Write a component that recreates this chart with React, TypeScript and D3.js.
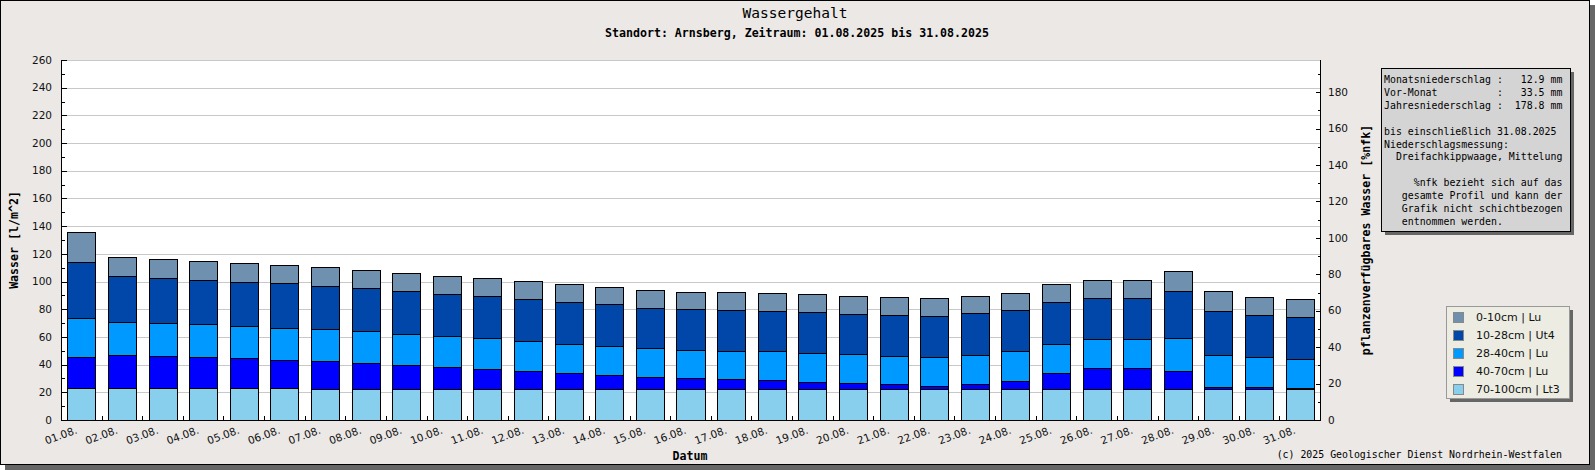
import React from "react";
import * as d3 from "d3";

// Tageswerte August 2025, Schichten von unten nach oben (l/m²)
const days = [
  "01.08.", "02.08.", "03.08.", "04.08.", "05.08.", "06.08.", "07.08.", "08.08.",
  "09.08.", "10.08.", "11.08.", "12.08.", "13.08.", "14.08.", "15.08.", "16.08.",
  "17.08.", "18.08.", "19.08.", "20.08.", "21.08.", "22.08.", "23.08.", "24.08.",
  "25.08.", "26.08.", "27.08.", "28.08.", "29.08.", "30.08.", "31.08.",
];

const s70_100 = [
  22.9, 22.9, 22.9, 22.9, 22.9, 22.9, 22.1, 22.1, 22.1, 22.1, 22.1, 22.1, 22.1, 22.1, 22.1, 22.1,
  22.1, 22.1, 22.1, 22.1, 22.1, 22.1, 22.1, 22.1, 22.1, 22.1, 22.1, 22.1, 22.1, 22.1, 22.1,
];
const s40_70 = [
  22.6, 24.0, 23.3, 22.6, 21.9, 20.4, 20.5, 19.1, 17.6, 16.2, 14.7, 13.3, 11.6, 10.2, 8.7, 8.0,
  7.3, 6.6, 5.1, 4.4, 3.7, 2.5, 3.7, 5.8, 11.6, 15.2, 15.2, 13.1, 1.7, 1.7, 0.7,
];
const s28_40 = [
  27.9, 23.7, 23.6, 23.6, 22.8, 22.9, 22.9, 22.8, 22.2, 22.1, 22.2, 21.4, 21.4, 21.4, 21.4, 20.7,
  20.7, 21.4, 21.4, 21.4, 20.6, 21.1, 21.4, 21.7, 21.4, 21.4, 21.4, 24.2, 23.4, 21.9, 21.5,
];
const s10_28 = [
  40.9, 33.2, 32.5, 31.8, 31.8, 32.5, 31.1, 31.1, 31.0, 30.4, 30.3, 30.4, 30.4, 29.8, 28.9, 29.6,
  29.6, 28.8, 29.6, 28.9, 29.7, 29.6, 29.8, 29.6, 30.4, 29.7, 29.7, 33.5, 31.7, 30.4, 30.3,
];
const s0_10 = [
  21.2, 13.7, 13.7, 13.7, 13.8, 13.0, 13.7, 13.0, 13.0, 13.0, 13.0, 13.0, 12.5, 12.3, 12.6, 11.8,
  12.5, 12.6, 12.6, 12.5, 12.5, 12.6, 12.3, 12.3, 12.5, 12.5, 12.5, 14.5, 14.0, 12.5, 12.6,
];

// legend order (top to bottom)
const layerKeys = ["l0_10", "l10_28", "l28_40", "l40_70", "l70_100"];
const layerLabels = ["0-10cm | Lu", "10-28cm | Ut4", "28-40cm | Lu", "40-70cm | Lu", "70-100cm | Lt3"];
const layerColors = ["#7090b0", "#0047a9", "#0099ff", "#0000ff", "#88cfee"];

const leftTicks = [0, 20, 40, 60, 80, 100, 120, 140, 160, 180, 200, 220, 240, 260];
const rightTicks = [0, 20, 40, 60, 80, 100, 120, 140, 160, 180];

const infoLines = [
  "Monatsniederschlag :   12.9 mm",
  "Vor-Monat          :   33.5 mm",
  "Jahresniederschlag :  178.8 mm",
  "",
  "bis einschließlich 31.08.2025",
  "Niederschlagsmessung:",
  "  Dreifachkippwaage, Mittelung",
  "",
  "     %nfk bezieht sich auf das",
  "   gesamte Profil und kann der",
  "   Grafik nicht schichtbezogen",
  "   entnommen werden.",
];

const W = 1595;
const H = 470;
const M = { left: 61, right: 1320, top: 60, bottom: 420 };
const MONO = "'DejaVu Sans Mono', monospace";
const SANS = "'DejaVu Sans', sans-serif";

export default function App() {
  const rows = days.map((d, i) => ({
    day: d,
    l70_100: s70_100[i],
    l40_70: s40_70[i],
    l28_40: s28_40[i],
    l10_28: s10_28[i],
    l0_10: s0_10[i],
  }));

  const stackKeys = [...layerKeys].reverse(); // bottom first
  const stacked = d3.stack<any>().keys(stackKeys)(rows);
  const colorOf = d3.scaleOrdinal<string, string>().domain(layerKeys).range(layerColors);

  const x = d3.scaleBand().domain(days).range([M.left, M.right]).paddingInner(0.31).paddingOuter(0.155);
  const band = d3.scaleBand().domain(days).range([M.left, M.right]);
  const y = d3.scaleLinear().domain([0, 260]).range([M.bottom, M.top]);
  const yR = d3.scaleLinear().domain([0, 197.7]).range([M.bottom, M.top]);

  const px = (v: number) => Math.round(v) + 0.5;

  const boxX = 1381, boxY = 68, boxW = 189, boxH = 163;
  const legX = 1446, legY = 306, legW = 123, legH = 92;

  return (
    <svg width={W} height={H} style={{ position: "absolute", left: 0, top: 0 }}>
      {/* frame */}
      <rect x={5} y={5} width={W - 5} height={H - 5} fill="#666" />
      <rect x={0.5} y={0.5} width={1589} height={464} fill="#ebe8e6" stroke="#000" />

      <text x={795} y={18} textAnchor="middle" fontFamily={MONO} fontSize={14.5} fill="#000">
        Wassergehalt
      </text>
      <text x={797} y={37} textAnchor="middle" fontFamily={MONO} fontSize={11.6} fontWeight="bold" fill="#000">
        Standort: Arnsberg, Zeitraum: 01.08.2025 bis 31.08.2025
      </text>

      {/* plot area */}
      <rect x={M.left} y={M.top} width={M.right - M.left} height={M.bottom - M.top} fill="#fff" />
      <g shapeRendering="crispEdges">
        {leftTicks.map((t) => (
          <line key={t} x1={M.left} x2={M.right} y1={px(y(t))} y2={px(y(t))} stroke="#c8c8c8" />
        ))}
      </g>

      {/* bars */}
      <g shapeRendering="crispEdges">
        {stacked.map((s) =>
          s.map((d, i) => {
            const x0 = px(x(days[i])!);
            const x1 = px(x(days[i])! + x.bandwidth());
            const y0 = px(y(d[0]));
            const y1 = px(y(d[1]));
            return (
              <rect
                key={s.key + i}
                x={x0}
                y={y1}
                width={x1 - x0}
                height={Math.max(0, y0 - y1)}
                fill={colorOf(s.key)}
                stroke="#000"
              />
            );
          })
        )}
      </g>

      {/* axes */}
      <g shapeRendering="crispEdges" stroke="#000">
        <line x1={px(M.left)} x2={px(M.left)} y1={M.top} y2={M.bottom + 1} />
        <line x1={px(M.right)} x2={px(M.right)} y1={M.top} y2={M.bottom + 1} />
        <line x1={M.left} x2={M.right + 1} y1={px(M.bottom)} y2={px(M.bottom)} />
        {d3.range(0, 261, 10).map((t) => (
          <line key={"l" + t} x1={px(M.left)} x2={px(M.left) + (t % 20 === 0 ? 5 : 3)} y1={px(y(t))} y2={px(y(t))} />
        ))}
        {d3.range(0, 191, 10).map((t) => (
          <line key={"r" + t} x1={px(M.right)} x2={px(M.right) - (t % 20 === 0 ? 5 : 3)} y1={px(yR(t))} y2={px(yR(t))} />
        ))}
        {days.slice(1).map((d) => (
          <line key={"b" + d} x1={px(band(d)!)} x2={px(band(d)!)} y1={px(M.bottom)} y2={px(M.bottom) - 5} />
        ))}
      </g>

      {leftTicks.map((t) => (
        <text key={t} x={52} y={y(t)} dy="0.35em" textAnchor="end" fontFamily={SANS} fontSize={10.5} fill="#111">
          {t}
        </text>
      ))}
      {rightTicks.map((t) => (
        <text key={t} x={1328} y={yR(t)} dy="0.35em" fontFamily={SANS} fontSize={10.5} fill="#111">
          {t}
        </text>
      ))}
      {days.map((d) => (
        <text
          key={d}
          transform={`translate(${band(d)! + band.bandwidth() / 2 - 3.5},433) rotate(-20)`}
          textAnchor="end"
          fontFamily={SANS}
          fontSize={10.5}
          fill="#111"
        >
          {d}
        </text>
      ))}

      {/* axis titles */}
      <text transform="translate(18,240) rotate(-90)" textAnchor="middle" fontFamily={MONO} fontSize={11.6} fontWeight="bold">
        Wasser [l/m^2]
      </text>
      <text transform="translate(1370,240) rotate(-90)" textAnchor="middle" fontFamily={MONO} fontSize={11.6} fontWeight="bold">
        pflanzenverfügbares Wasser [%nfk]
      </text>
      <text x={690} y={460} textAnchor="middle" fontFamily={MONO} fontSize={11.6} fontWeight="bold">
        Datum
      </text>

      {/* info box */}
      <g shapeRendering="crispEdges">
        <rect x={boxX + 4} y={boxY + 4} width={boxW} height={boxH} fill="#666" />
        <rect x={boxX + 0.5} y={boxY + 0.5} width={boxW} height={boxH} fill="#d4d4d4" stroke="#000" />
      </g>
      {infoLines.map((l, i) => (
        <text key={i} x={boxX + 3} y={boxY + 15 + i * 12.9} fontFamily={MONO} fontSize={9.9} fill="#000" xmlSpace="preserve" style={{ whiteSpace: "pre" }}>
          {l}
        </text>
      ))}

      {/* legend */}
      <g shapeRendering="crispEdges">
        <rect x={legX + 4} y={legY + 4} width={legW} height={legH} fill="#666" />
        <rect x={legX + 0.5} y={legY + 0.5} width={legW} height={legH} fill="#ececE2" stroke="#999" />
      </g>
      {layerKeys.map((k, i) => (
        <g key={k}>
          <rect
            x={legX + 7.5}
            y={legY + 6.5 + i * 18}
            width={10}
            height={10}
            fill={colorOf(k)}
            stroke="#888"
            shapeRendering="crispEdges"
          />
          <text x={legX + 30} y={legY + 11.5 + i * 18} dy="0.35em" fontFamily={SANS} fontSize={11} fill="#111">
            {layerLabels[i]}
          </text>
        </g>
      ))}

      <text x={1562} y={458} textAnchor="end" fontFamily={MONO} fontSize={9.9} fill="#000">
        (c) 2025 Geologischer Dienst Nordrhein-Westfalen
      </text>
    </svg>
  );
}
